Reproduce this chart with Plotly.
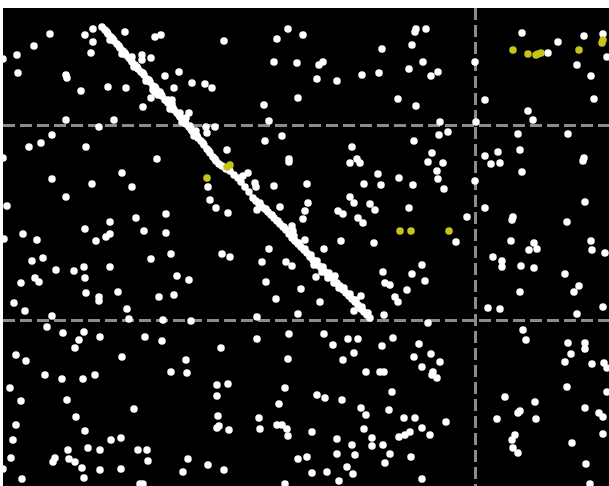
import plotly.graph_objects as go

# Point positions (x, y), grouped by region
top_left = [(3,59),(17,55),(34,46),(50,34),(85,35),(93,29),(93,42),(91,53),(125,32),(155,37),(161,35),
            (142,55),(142,60),(151,58),(18,73),(66,75),(67,78),(81,91),(108,87),(126,88),(165,76),(179,72),
            (174,88),(192,83),(143,107),(151,98),(172,100),(189,113),(66,120),(114,120),(99,127),(52,135),
            (41,143),(29,147),(86,147),(3,158),(157,159),(132,57),(153,90)]
top_mid = [(224,41),(288,29),(303,35),(277,39),(382,49),(274,62),(297,63),(319,65),(323,62),(317,79),
           (337,81),(362,75),(379,73),(205,84),(212,88),(298,98),(398,99),(264,105),(269,121),(206,127),
           (215,127),(207,133),(265,141),(282,136),(227,150),(352,147),(289,159),(357,159)]
top_right = [(415,32),(416,29),(426,29),(412,45),(423,62),(409,69),(431,76),(438,72),(416,106),(475,62),
             (485,100),(476,122),(440,122),(448,132),(439,135),(414,141),(432,153),(485,156),(498,152),
             (520,150),(522,33),(558,42),(548,53),(584,36),(603,34),(607,57),(577,65),(591,76),(594,99),
             (528,111),(533,120),(518,134),(568,134),(584,158)]
mid_left = [(52,179),(122,173),(92,184),(132,187),(66,197),(7,206),(166,214),(136,218),(110,222),(85,229),
            (144,231),(166,233),(23,234),(106,237),(110,234),(96,241),(37,240),(4,239),(171,254),(151,259),
            (43,258),(32,261),(56,270),(74,271),(84,267),(110,267),(85,278),(35,278),(39,282),(21,283),
            (177,276),(189,280),(86,293),(99,297),(99,301),(118,292),(159,297),(174,295),(14,303),(25,311),
            (127,309),(52,316),(129,319),(163,320),(191,321),(47,327),(63,333),(84,332),(79,340),(100,337),
            (145,337),(162,341),(75,348),(16,355),(26,361),(122,357),(186,360),(171,372),(187,373),(45,375),
            (62,379),(83,379),(95,375)]
mid_mid = [(289,162),(350,163),(360,163),(378,174),(399,178),(208,187),(364,184),(381,185),(307,184),
           (274,186),(255,183),(256,187),(210,200),(216,208),(228,213),(280,207),(308,203),(305,211),
           (303,219),(350,197),(354,203),(370,204),(375,210),(338,211),(343,214),(358,218),(363,223),
           (341,241),(374,243),(305,240),(269,249),(324,249),(222,254),(230,257),(262,262),(286,262),
           (292,266),(316,277),(383,272),(385,283),(390,285),(266,282),(301,289),(276,299),(320,302),
           (361,296),(354,311),(395,297),(398,302),(384,315),(257,317),(298,314),(257,339),(289,334),
           (324,334),(333,345),(348,339),(358,339),(382,346),(393,338),(221,348),(354,353),(343,360),
           (288,359),(366,372),(380,372),(384,372)]
mid_right = [(428,162),(443,163),(491,164),(500,163),(522,172),(583,161),(437,171),(438,179),(475,181),
             (413,185),(444,189),(585,202),(409,208),(485,208),(467,217),(512,220),(513,217),(567,222),
             (456,242),(511,241),(534,243),(537,249),(529,250),(591,241),(592,250),(605,253),(493,257),
             (502,261),(502,267),(521,266),(534,268),(422,265),(412,274),(425,281),(565,274),(579,286),
             (574,292),(520,292),(407,290),(488,308),(500,309),(603,307),(577,314),(428,323),(523,330),
             (526,340),(419,344),(568,343),(585,343),(585,349),(431,354),(414,357),(571,354),(440,362),
             (422,367),(565,362),(592,364),(604,363),(607,368),(433,372),(432,375),(437,378)]
bot_left = [(10,388),(21,401),(67,400),(134,409),(76,417),(16,425),(85,431),(13,440),(111,440),(121,438),
            (68,450),(88,448),(100,450),(138,450),(147,450),(11,458),(53,462),(55,458),(69,459),(75,462),
            (82,468),(100,470),(121,469),(148,461),(188,459),(183,472),(3,469),(22,479),(84,478),(140,484),
            (143,484)]
bot_mid = [(217,385),(228,384),(285,388),(217,396),(317,395),(325,398),(342,400),(392,392),(279,404),
           (361,408),(366,415),(389,410),(218,416),(259,418),(217,428),(219,426),(229,430),(260,429),
           (277,425),(282,425),(287,429),(288,436),(312,432),(364,429),(337,439),(372,438),(372,446),
           (352,445),(383,445),(399,437),(337,454),(355,455),(390,454),(298,459),(307,457),(385,463),
           (347,467),(208,465),(224,470),(312,473),(327,472),(353,474),(339,481),(285,484)]
bot_right = [(567,387),(607,392),(505,397),(535,402),(585,408),(518,413),(520,411),(599,413),(603,417),
             (404,418),(415,418),(446,422),(497,419),(536,419),(422,428),(410,432),(405,435),(430,435),
             (515,435),(512,440),(513,448),(518,453),(603,434),(572,443),(411,457),(586,464),(422,479),
             (590,484)]
# Dense diagonal band of points
diagonal = [(102,27),(105,30),(108,34),(111,37),(114,41),(117,44),(120,48),(123,51),(126,55),(129,58),
            (132,62),(135,65),(138,69),(141,72),(144,75),(147,79),(150,82),(153,86),(156,89),(159,93),
            (162,96),(165,100),(168,103),(171,107),(174,110),(177,113),(180,117),(183,120),(186,124),
            (189,127),(192,131),(195,134),(198,138),(201,141),(155,92),(160,92),(168,100),(172,104),
            (180,113),(186,118),(190,126),(196,131),(204,145),(207,149),(210,153),(213,157),(216,161),
            (219,164),(222,166),(226,169),(230,171),(234,175),(238,178),(243,176),(248,173),(241,182),
            (245,187),(249,192),(253,198),(256,201),(259,204),(262,207),(265,209),(268,212),(271,215),
            (274,218),(277,221),(280,224),(283,227),(286,230),(257,210),(292,226),(293,231),(294,236),
            (289,234),(292,238),(295,241),(298,244),(301,247),(304,250),(307,253),(310,257),(313,260),
            (316,263),(319,266),(322,269),(325,272),(328,275),(331,277),(334,279),(322,272),(328,278),
            (335,276),(337,283),(340,286),(343,290),(346,293),(349,296),(352,299),(355,302),(358,305),
            (361,309),(364,312),(367,315),(370,318),(339,288)]
diagonal_edge = [(107,32),(113,39),(119,46),(125,53),(131,60),(137,67),(143,73),(149,80),(155,87),(161,94),
                 (167,101),(173,108),(179,115),(185,122),(191,129),(197,136),(203,143),(209,151),(215,159),
                 (110,40),(122,54),(134,67),(146,81),(158,95),(170,109),(182,122),(194,136),
                 (260,203),(266,209),(272,215),(278,221),(284,227),(299,243),(305,249),(311,255),(317,261),
                 (323,267),(329,273),(344,288),(350,294),(356,300),(362,307),(368,313),(334,283),(314,265)]
highlight = [(513,50),(528,54),(536,55),(538,54),(541,53),(579,50),(602,43),(603,40),(207,178),(227,167),
             (230,165),(400,231),(411,231),(449,231)]

grid_x = [475]
grid_y = [125, 320]

white = (top_left + top_mid + top_right + mid_left + mid_mid + mid_right + bot_left + bot_mid + bot_right
         + diagonal + diagonal_edge)
wx = [p[0] for p in white]
wy = [p[1] for p in white]
hx = [p[0] for p in highlight]
hy = [p[1] for p in highlight]

fig = go.Figure()
fig.add_trace(go.Scatter(x=wx, y=wy, mode="markers",
                         marker=dict(size=7.5, color="white", line=dict(width=0)),
                         hoverinfo="skip", showlegend=False))
fig.add_trace(go.Scatter(x=hx, y=hy, mode="markers",
                         marker=dict(size=7.5, color="#c8c41a", line=dict(width=0)),
                         hoverinfo="skip", showlegend=False))

axis_common = dict(showticklabels=False, ticks="", zeroline=False, showline=False,
                   showgrid=True, gridcolor="#8c8c8c", gridwidth=2.5, griddash="12px,5px")
fig.update_xaxes(range=[3, 609], tickvals=grid_x, **axis_common)
fig.update_yaxes(range=[486, 8], tickvals=grid_y, **axis_common)
fig.update_layout(width=609, height=486, margin=dict(l=3, r=0, t=8, b=0),
                  plot_bgcolor="black", paper_bgcolor="white")
fig.write_html("out.html", config={"displayModeBar": False},
               post_script="document.body.style.margin='0';document.body.style.overflow='hidden';")
